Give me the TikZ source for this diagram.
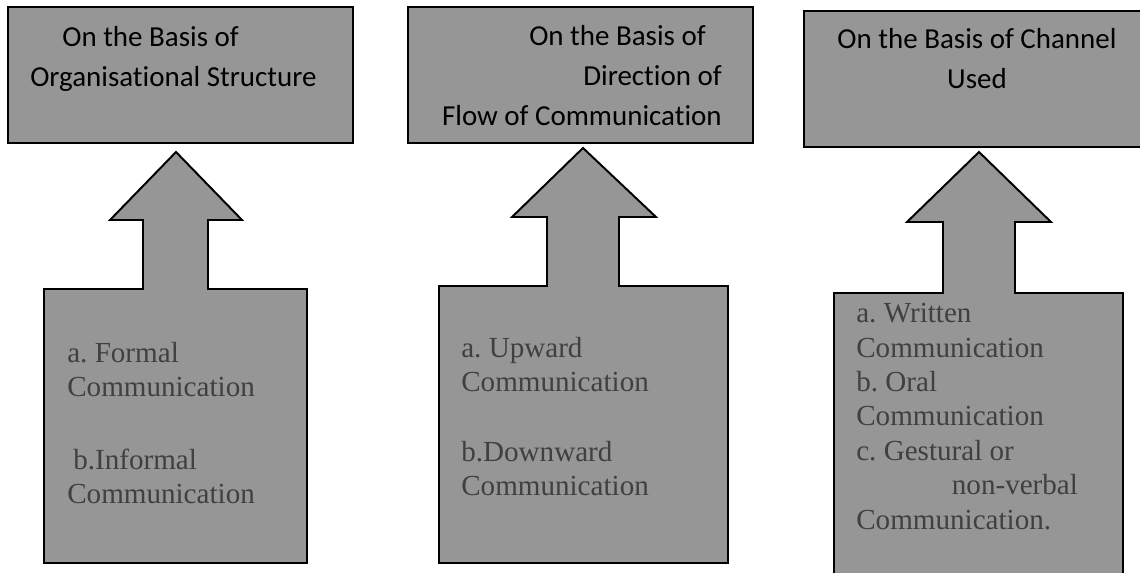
\documentclass[tikz,border=0pt]{standalone}
\usepackage{fontspec}
\setmainfont{Liberation Serif}
\setsansfont[Ligatures=NoCommon]{Carlito}
\frenchspacing
\usetikzlibrary{positioning}
\definecolor{boxgray}{RGB}{150,150,150}
\definecolor{listgray}{RGB}{64,64,64}
\tikzset{
	basis/.style={
		shape=rectangle,
		draw,
		fill=boxgray,
		line width=1.4pt,
		anchor=north west,
		inner sep=0pt,
		outer sep=0pt,
		minimum height=3.4cm
	},
	heading/.style={
		font=\sffamily\fontsize{20.6}{28.5}\selectfont,
		text=black,
		inner sep=0pt
	},
	items/.style={
		font=\rmfamily\fontsize{20.7}{24.5}\selectfont,
		text=listgray,
		align=left,
		anchor=north west,
		inner sep=0pt
	},
	uparrow/.style={
		draw,
		fill=boxgray,
		line width=1.4pt,
		line join=miter
	}
}
\begin{document}
\begin{tikzpicture}[x=0.025cm,y=-0.025cm]
	\useasboundingbox (0,0) rectangle (1140,573);
	\clip (0,0) rectangle (1140,573);
	
	\node[basis, minimum width=8.625cm] (org) at (8,7) {};
	\node[basis, minimum width=8.625cm] (dir) at (408,7) {};
	\node[basis, minimum width=8.425cm] (chan) at (804,11) {};
	
	\node[heading, anchor=north west, align=left] (orgtext) at (30,26) {\hspace*{22.8pt}On the Basis of\\Organisational Structure};
	\node[heading, anchor=north east, align=right] (dirtext) at (722,25) {On the Basis of\hspace*{11.4pt}\\Direction of\hspace*{11.4pt}\\Flow of Communication};
	\node[heading, anchor=north, align=center] (chantext) at (977,28) {On the Basis of Channel\\Used};
	
	\draw[uparrow] (176,152) -- (242,220) -- (208,220) -- (208,289) -- (307,289) -- (307,563) -- (44,563) -- (44,289) -- (143,289) -- (143,220) -- (110,220) -- cycle;
	\draw[uparrow] (583,148) -- (656,217) -- (619,217) -- (619,286) -- (728,286) -- (728,563) -- (439,563) -- (439,286) -- (547,286) -- (547,217) -- (512,217) -- cycle;
	\draw[uparrow] (979,152) -- (1051,222) -- (1015,222) -- (1015,293) -- (1123,293) -- (1123,590) -- (834,590) -- (834,293) -- (943,293) -- (943,222) -- (907,222) -- cycle;
	
	\node[items] (orglist) at (67,342) {a. Formal\\Communication\\[27pt]\hspace*{4.3pt}b.Informal\\Communication};
	\node[items] (dirlist) at (461,337) {a. Upward\\Communication\\[25pt]b.Downward\\Communication};
	\node[items] (chanlist) at (856,303) {a. Written\\Communication\\b. Oral\\Communication\\c. Gestural or\\\hspace*{68pt}non-verbal\\Communication.};
\end{tikzpicture}
\end{document}
